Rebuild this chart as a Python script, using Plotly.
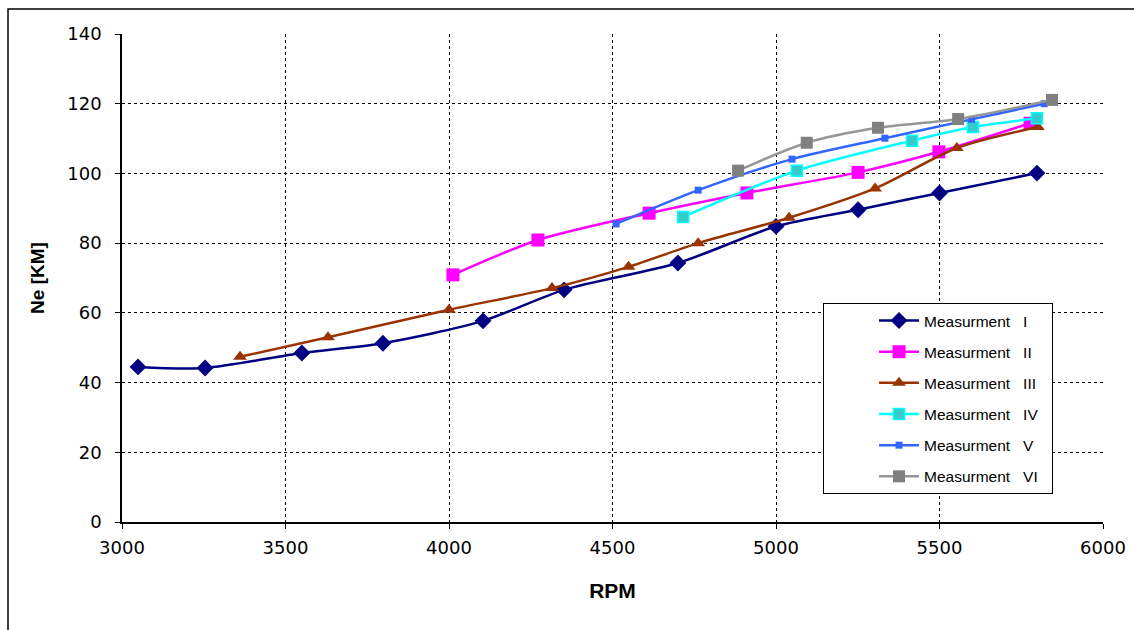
import plotly.graph_objects as go

# ---- data ----
rpm_I = [3049, 3254, 3550, 3798, 4104, 4352, 4700, 5000, 5251, 5500, 5798]
ne_I = [44.5, 44.2, 48.5, 51.3, 57.7, 66.6, 74.3, 84.8, 89.6, 94.4, 100.1]

rpm_II = [4012, 4272, 4612, 4911, 5251, 5498, 5777]
ne_II = [70.9, 80.9, 88.6, 94.4, 100.3, 106.2, 114.4]

rpm_III = [3361, 3630, 4000, 4315, 4549, 4762, 5040, 5303, 5553, 5801]
ne_III = [47.4, 53.0, 60.9, 67.1, 73.2, 80.0, 87.3, 95.7, 107.3, 113.3]

rpm_IV = [4716, 5064, 5416, 5602, 5798]
ne_IV = [87.5, 100.8, 109.4, 113.3, 115.8]

rpm_V = [4511, 4762, 5049, 5333, 5598, 5820]
ne_V = [85.5, 95.2, 104.1, 110.1, 115.5, 120.0]

rpm_VI = [4884, 5094, 5312, 5557, 5844]
ne_VI = [100.8, 108.8, 113.1, 115.6, 121.1]

names = ["Measurment   I", "Measurment   II", "Measurment   III",
         "Measurment   IV", "Measurment   V", "Measurment   VI"]

FONT = "Liberation Sans, Arial, sans-serif"
TICKFONT = "DejaVu Sans, sans-serif"

fig = go.Figure()

styles = [
    (rpm_I, ne_I, "#000080", dict(symbol="diamond", size=13, color="#000080")),
    (rpm_II, ne_II, "#FF00FF", dict(symbol="square", size=13, color="#FF00FF")),
    (rpm_III, ne_III, "#993300", dict(symbol="triangle-up", size=12, color="#993300")),
    (rpm_IV, ne_IV, "#00FFFF", dict(symbol="square", size=11, color="#33CCCC",
                                    line=dict(color="#00FFFF", width=1.5))),
    (rpm_V, ne_V, "#3366FF", dict(symbol="square", size=7, color="#3366FF")),
    (rpm_VI, ne_VI, "#969696", dict(symbol="square", size=12, color="#808080")),
]

for i, (xs, ys, lc, mk) in enumerate(styles):
    fig.add_trace(go.Scatter(
        x=xs, y=ys, name=names[i] + "  ", mode="lines+markers",
        line=dict(color=lc, width=2.5, shape="spline", smoothing=0.8),
        marker=mk, legendgroup=f"g{i}",
    ))

grid = dict(showgrid=True, gridcolor="black", gridwidth=1, griddash="dot")

fig.update_layout(
    width=1134, height=630,
    paper_bgcolor="white", plot_bgcolor="white",
    margin=dict(l=122, r=31, t=34, b=108),
    font=dict(family=FONT, color="black"),
    xaxis=dict(range=[3000, 6000], dtick=500, tick0=3000, automargin=False,
               ticks="outside", ticklen=5, tickcolor="black",
               showline=True, linecolor="black", linewidth=1.5,
               tickfont=dict(size=18, family=TICKFONT),
               ticklabelstandoff=4,
               title=dict(text="<b>RPM</b>", font=dict(size=21, family=FONT), standoff=26),
               zeroline=False, **grid),
    yaxis=dict(range=[0, 140], dtick=20, tick0=0, automargin=False,
               ticks="outside", ticklen=5, tickcolor="black",
               showline=True, linecolor="black", linewidth=1.5,
               tickfont=dict(size=18, family=TICKFONT),
               ticklabelstandoff=10,
               title=dict(text="<b>Ne [KM]</b>", font=dict(size=19, family=FONT), standoff=18),
               zeroline=False, **grid),
    legend=dict(x=0.7146, y=0.4488, xanchor="left", yanchor="top",
                bordercolor="black", borderwidth=1, bgcolor="white",
                font=dict(size=15.5, family=FONT, color="black"),
                tracegroupgap=8, itemwidth=40, indentation=50),
    shapes=[dict(type="rect", xref="paper", yref="paper",
                 x0=-0.1162, x1=1.2, y0=-0.4, y1=1.0512,
                 line=dict(color="black", width=1.5), layer="below")],
)

fig.write_html("out.html", config={"displayModeBar": False},
               post_script="document.body.style.margin='0px';")
